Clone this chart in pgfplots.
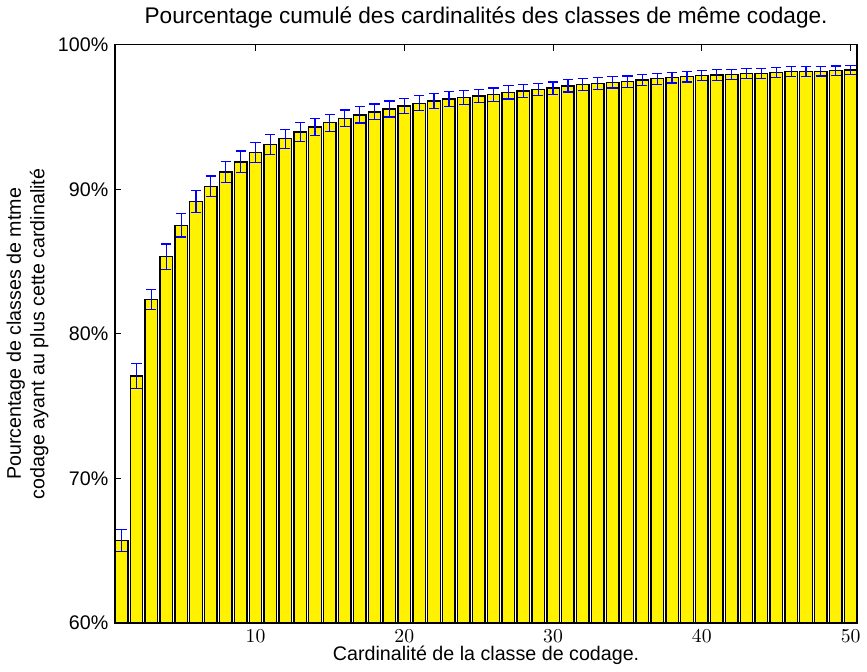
\documentclass[border=0pt]{standalone}
\usepackage{pgfplots}
\pgfplotsset{compat=1.18}
\usepackage{fontspec}
\setmainfont{Liberation Sans}
\begin{document}
\begin{tikzpicture}
\begin{axis}[
  scale only axis,
  width=377pt,
  height=294pt,
  ybar=0pt,
  bar width=0.84,
  xmin=0.57, xmax=50.43,
  ymin=60, ymax=100,
  xtick={10,20,30,40,50},
  ytick={60,70,80,90,100},
  yticklabels={60\%,70\%,80\%,90\%,100\%},
  tick align=inside,
  tick pos=both,
  major tick length=3pt,
  axis line style={line width=0.8pt},
  tick style={black, line width=0.5pt},
  title={Pourcentage cumulé des cardinalités des classes de même codage.},
  title style={font=\fontsize{11.5}{14}\selectfont, yshift=-1pt},
  xlabel={Cardinalité de la classe de codage.},
  ylabel={Pourcentage de classes de mtme\\codage ayant au plus cette cardinalité},
  ylabel style={align=center, font=\normalsize, text depth=0pt},
  xlabel style={yshift=5pt},
]
\addplot[
  fill=yellow, draw=black, line width=0.7pt,
  error bars/.cd, y dir=both, y explicit,
  error bar style={blue, line width=0.6pt},
  error mark options={rotate=90, blue, mark size=2.6pt, line width=0.6pt},
] coordinates {
  (1,65.7) +- (0,0.77)
  (2,77.1) +- (0,0.85)
  (3,82.4) +- (0,0.70)
  (4,85.35) +- (0,0.87)
  (5,87.5) +- (0,0.80)
  (6,89.15) +- (0,0.77)
  (7,90.2) +- (0,0.72)
  (8,91.2) +- (0,0.75)
  (9,91.9) +- (0,0.75)
  (10,92.55) +- (0,0.70)
  (11,93.1) +- (0,0.70)
  (12,93.5) +- (0,0.65)
  (13,93.95) +- (0,0.65)
  (14,94.3) +- (0,0.60)
  (15,94.6) +- (0,0.60)
  (16,94.9) +- (0,0.58)
  (17,95.15) +- (0,0.57)
  (18,95.35) +- (0,0.55)
  (19,95.55) +- (0,0.55)
  (20,95.75) +- (0,0.53)
  (21,95.95) +- (0,0.52)
  (22,96.1) +- (0,0.50)
  (23,96.25) +- (0,0.50)
  (24,96.35) +- (0,0.48)
  (25,96.45) +- (0,0.47)
  (26,96.55) +- (0,0.46)
  (27,96.7) +- (0,0.45)
  (28,96.8) +- (0,0.44)
  (29,96.9) +- (0,0.43)
  (30,97.0) +- (0,0.42)
  (31,97.15) +- (0,0.42)
  (32,97.25) +- (0,0.41)
  (33,97.32) +- (0,0.40)
  (34,97.4) +- (0,0.40)
  (35,97.45) +- (0,0.39)
  (36,97.55) +- (0,0.38)
  (37,97.65) +- (0,0.38)
  (38,97.72) +- (0,0.37)
  (39,97.79) +- (0,0.37)
  (40,97.86) +- (0,0.36)
  (41,97.9) +- (0,0.36)
  (42,97.95) +- (0,0.35)
  (43,98.0) +- (0,0.35)
  (44,98.02) +- (0,0.35)
  (45,98.07) +- (0,0.34)
  (46,98.13) +- (0,0.34)
  (47,98.15) +- (0,0.34)
  (48,98.16) +- (0,0.33)
  (49,98.2) +- (0,0.33)
  (50,98.25) +- (0,0.33)
};
\end{axis}
\end{tikzpicture}
\end{document}
